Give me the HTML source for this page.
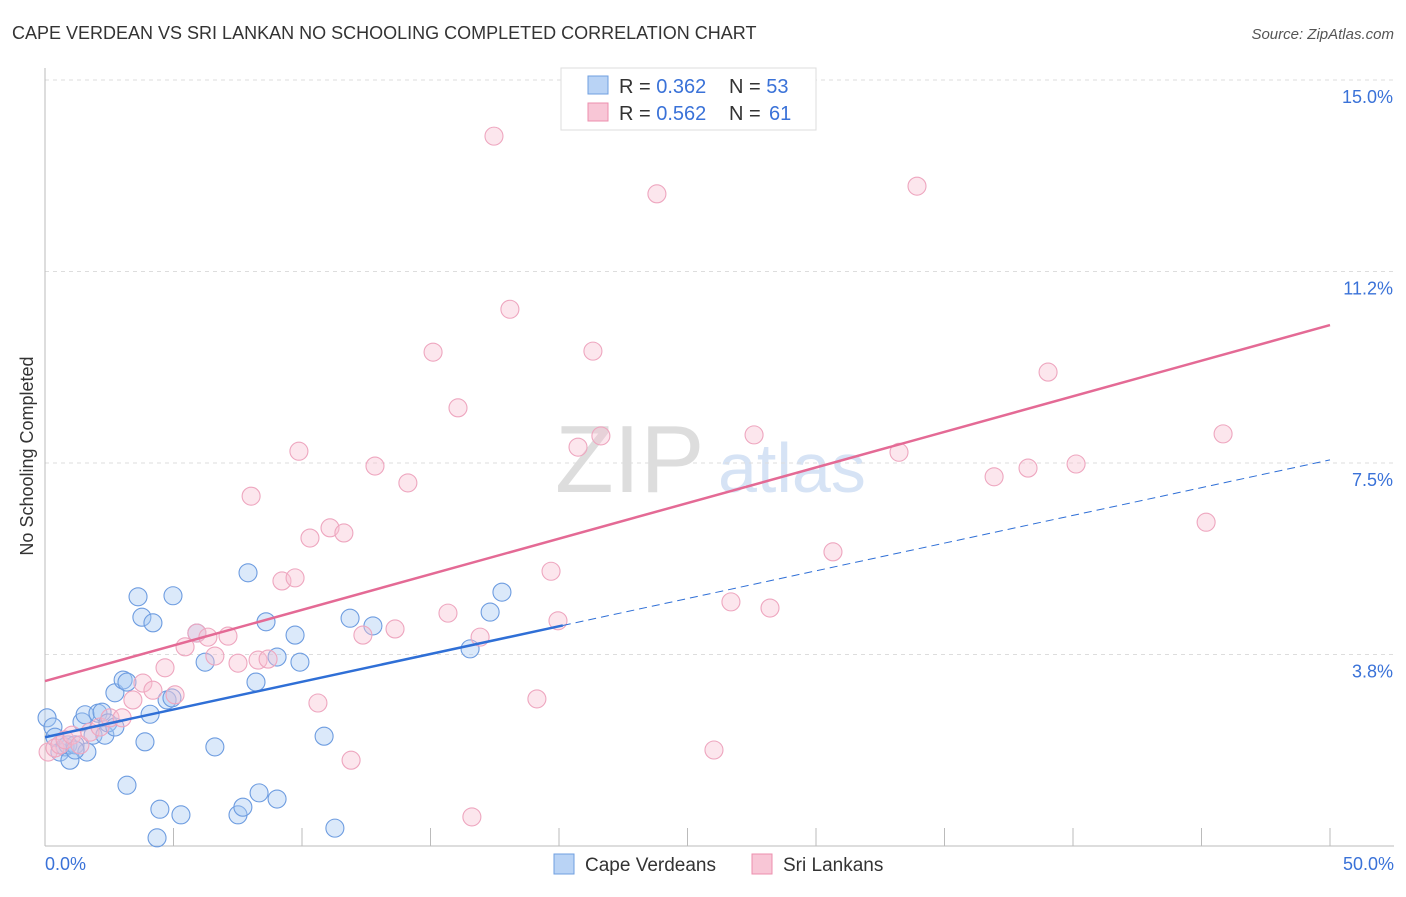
<!DOCTYPE html>
<html><head><meta charset="utf-8"><style>
body{margin:0;background:#fff;font-family:"Liberation Sans",sans-serif}
svg text{font-family:"Liberation Sans",sans-serif}
</style></head><body>
<svg id="chart" width="1406" height="892" xmlns="http://www.w3.org/2000/svg">
<text x="12" y="39" font-size="18" fill="#333">CAPE VERDEAN VS SRI LANKAN NO SCHOOLING COMPLETED CORRELATION CHART</text>
<text x="1394" y="39" font-size="15" fill="#555" text-anchor="end" font-style="italic">Source: ZipAtlas.com</text>
<text x="33" y="456" font-size="18" fill="#333" text-anchor="middle" transform="rotate(-90 33 456)">No Schooling Completed</text>
<g><text x="555" y="492" font-size="96" fill="#ddd" font-family="Liberation Serif">ZIP</text><text x="718" y="492" font-size="70" fill="#d6e3f5">atlas</text></g>
<g id="grid"></g><g id="axes"></g><g id="pts"></g><g id="lines"></g>
<g>
<rect x="561" y="68" width="255" height="62" fill="#fff" stroke="#ddd"/>
<rect x="588" y="76" width="20" height="18" fill="#b9d3f5" stroke="#6f9fe0"/>
<rect x="588" y="103" width="20" height="18" fill="#f8c6d6" stroke="#ec8fae"/>
<text x="619" y="93" font-size="20" fill="#333">R = <tspan fill="#3a72d8">0.362</tspan></text>
<text x="729" y="93" font-size="20" fill="#333">N = <tspan fill="#3a72d8">53</tspan></text>
<text x="619" y="120" font-size="20" fill="#333">R = <tspan fill="#3a72d8">0.562</tspan></text>
<text x="729" y="120" font-size="20" fill="#333">N = <tspan x="769" fill="#3a72d8">61</tspan></text>
</g>
<g>
<rect x="554" y="854" width="20" height="20" fill="#b9d3f5" stroke="#6f9fe0"/>
<text x="585" y="871" font-size="19" fill="#333">Cape Verdeans</text>
<rect x="752" y="854" width="20" height="20" fill="#f8c6d6" stroke="#ec8fae"/>
<text x="783" y="871" font-size="19" fill="#333">Sri Lankans</text>
</g>
</svg>
<script>
const yTicks=[3.75,7.5,11.25,15];
const yTickLabels=["3.8%","7.5%","11.2%","15.0%"];
const xTickLabels=["0.0%","50.0%"];
const capeX=[0.08,0.31,0.39,0.58,0.78,0.97,0.89,1.17,1.44,1.56,1.63,1.87,2.06,2.22,2.33,2.45,2.72,2.72,3.04,3.19,3.19,3.62,3.77,3.89,4.09,4.20,4.47,4.36,4.75,4.94,4.98,5.29,5.91,6.23,6.61,7.51,7.70,7.90,8.21,8.33,8.60,9.03,9.03,9.73,9.92,10.86,11.28,11.87,12.76,16.54,17.32,17.78,1.17];
const capeY=[2.51,2.33,2.13,1.84,1.94,1.68,1.98,1.98,2.43,2.57,1.84,2.17,2.60,2.62,2.17,2.41,2.33,3.00,3.25,3.21,1.19,4.88,4.48,2.04,2.58,4.37,0.72,0.16,2.86,2.90,4.90,0.61,4.17,3.60,1.94,0.61,0.76,5.35,3.21,1.04,4.39,0.92,3.70,4.13,3.60,2.15,0.35,4.46,4.31,3.86,4.58,4.97,1.88];
const sriX=[0.12,0.39,0.58,0.78,1.05,1.36,1.75,2.14,2.53,3.00,3.42,3.81,4.20,4.67,5.06,5.45,5.91,6.34,6.61,7.12,7.51,8.02,8.29,8.68,9.22,9.73,9.88,10.31,10.62,11.09,11.63,11.91,12.37,12.84,13.62,14.12,15.10,15.68,16.07,16.61,16.93,17.47,18.09,19.14,19.69,19.96,20.74,21.32,21.63,23.81,26.03,26.69,27.59,28.21,30.66,33.23,33.93,36.93,38.25,39.03,40.12,45.18,45.84];
const sriY=[1.84,1.92,1.98,2.08,2.17,1.98,2.23,2.33,2.51,2.51,2.86,3.19,3.05,3.49,2.96,3.90,4.17,4.09,3.72,4.11,3.58,6.85,3.64,3.66,5.19,5.25,7.73,6.03,2.80,6.23,6.13,1.68,4.13,7.44,4.25,7.11,9.67,4.56,8.58,0.57,4.09,13.90,10.51,2.88,5.38,4.41,7.81,9.69,8.03,12.77,1.88,4.78,8.05,4.66,5.76,7.71,12.92,7.23,7.40,9.28,7.48,6.34,8.07];
const capeTrend=[2.13,7.56]; const capeSolidEnd=20.15;
const sriTrend=[3.23,10.20];
const NS="http://www.w3.org/2000/svg";
const sx=v=>45+v*25.7, sy=v=>846-v*51.07;
function mk(t,a,p){const e=document.createElementNS(NS,t);for(const k in a)e.setAttribute(k,a[k]);document.getElementById(p).appendChild(e);return e;}
yTicks.forEach((t,i)=>{
 const l=mk('line',{x1:45,x2:1394,y1:sy(t),y2:sy(t),stroke:'#ddd','stroke-dasharray':'4,4'},'grid');
 
 
 const tx=mk('text',{x:1393,y:sy(t)+23,'font-size':18,fill:'#3a72d8','text-anchor':'end'},'grid');
 tx.textContent=yTickLabels[i];
 
 
});
let ax=mk('line',{x1:45,x2:45,y1:68,y2:846,stroke:'#bbb'},'axes');


ax=mk('line',{x1:45,x2:1394,y1:846,y2:846,stroke:'#bbb'},'axes');


for(let i=1;i<=10;i++){const t=mk('line',{x1:sx(i*5),x2:sx(i*5),y1:828,y2:846,stroke:'#bbb'},'axes');
 
 }
[[0,'start',45],[50,'end',1394]].forEach((d,i)=>{const t=mk('text',{x:d[2],y:870,'font-size':18,fill:'#3a72d8','text-anchor':d[1]},'axes');t.textContent=xTickLabels[i];
 
 });
capeX.forEach((x,i)=>{const c=mk('circle',{cx:sx(x),cy:sy(capeY[i]),r:9,fill:'rgba(165,200,242,0.4)',stroke:'#6d9ce0','stroke-width':1.1},'pts');
 
 });
sriX.forEach((x,i)=>{const c=mk('circle',{cx:sx(x),cy:sy(sriY[i]),r:9,fill:'rgba(248,192,210,0.4)',stroke:'#eea6bf','stroke-width':1.1},'pts');
 
 });
const cy=x=>capeTrend[0]+(capeTrend[1]-capeTrend[0])*x/50;
let tl=mk('line',{x1:sx(0),y1:sy(cy(0)),x2:sx(capeSolidEnd),y2:sy(cy(capeSolidEnd)),stroke:'#2f6fd6','stroke-width':2.5},'lines');


tl=mk('line',{x1:sx(capeSolidEnd),y1:sy(cy(capeSolidEnd)),x2:sx(50),y2:sy(cy(50)),stroke:'#2f6fd6','stroke-width':1,'stroke-dasharray':'8,5'},'lines');


tl=mk('line',{x1:sx(0),y1:sy(sriTrend[0]),x2:sx(50),y2:sy(sriTrend[1]),stroke:'#e46a95','stroke-width':2.5},'lines');


</script>
</body></html>
